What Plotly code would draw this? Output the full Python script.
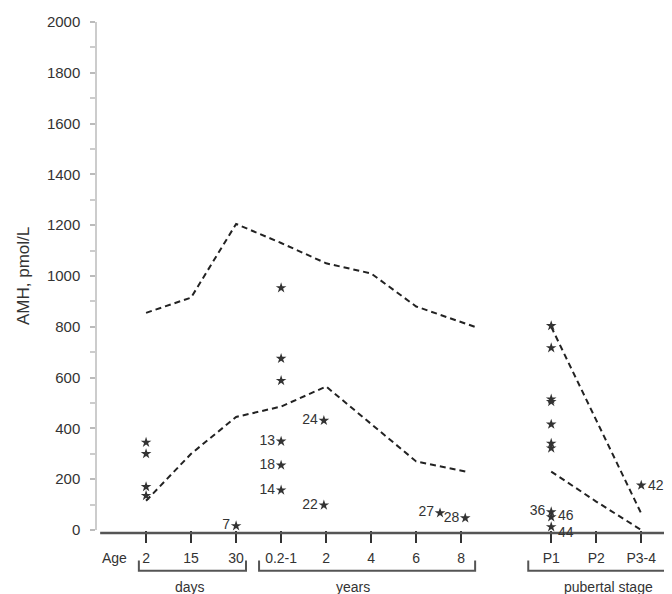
import plotly.graph_objects as go

# ---------------- data ----------------
tick_pos = [0, 1, 2, 3, 4, 5, 6, 7, 9, 10, 11]
tick_text = ["2", "15", "30", "0.2-1", "2", "4", "6", "8", "P1", "P2", "P3-4"]

# reference range (dashed) — early childhood
upper_x = [0, 1, 2, 3, 4, 5, 6, 7.3]
upper_y = [855, 915, 1205, 1130, 1050, 1010, 880, 800]
lower_x = [0, 1, 2, 3, 4, 5, 6, 7.1]
lower_y = [115, 300, 445, 486, 565, 418, 270, 230]

# reference range (dashed) — pubertal stages
pub_upper_x = [9, 11]
pub_upper_y = [800, 65]
pub_lower_x = [9, 10, 11]
pub_lower_y = [230, 112, 0]

# unlabeled patient values
stars_x = [0, 0, 0, 0, 3, 3, 3, 9, 9, 9, 9, 9, 9, 9]
stars_y = [345, 300, 170, 135, 953, 675, 588, 804, 717, 515, 505, 416, 341, 322]

# labeled patient values (label on left)
left_x = [2, 3, 3, 3, 3.95, 3.95, 6.53, 7.09, 9]
left_y = [16, 349, 255, 157, 431, 98, 67, 47, 71]
left_lab = ["7", "13", "18", "14", "24", "22", "27", "28", "36"]

# labeled patient values (label on right)
right_x = [9, 9, 11]
right_y = [51, 12, 176]
right_lab = ["46", "44", "42"]

groups = [("days", -0.16, 2.22), ("years", 2.51, 7.31), ("pubertal stage", 8.49, 11.71)]
group_label_x = [0.98, 4.6, 10.27]

FONT = "Liberation Sans, Arial, sans-serif"
DARK = "#333333"

fig = go.Figure()

for xs, ys in [(upper_x, upper_y), (lower_x, lower_y), (pub_upper_x, pub_upper_y), (pub_lower_x, pub_lower_y)]:
    fig.add_trace(go.Scatter(x=xs, y=ys, mode="lines",
                             line=dict(color="#222222", width=2, dash="6px,4px"),
                             showlegend=False, hoverinfo="skip", cliponaxis=False))

star_marker = dict(symbol="star", size=8, color=DARK, line=dict(width=0))
fig.add_trace(go.Scatter(x=stars_x, y=stars_y, mode="markers", marker=star_marker,
                         showlegend=False, cliponaxis=False))
fig.add_trace(go.Scatter(x=left_x, y=left_y, mode="markers+text", marker=star_marker,
                         text=left_lab, textposition="middle left",
                         textfont=dict(family=FONT, size=14, color=DARK),
                         showlegend=False, cliponaxis=False))
fig.add_trace(go.Scatter(x=right_x, y=right_y, mode="markers", marker=star_marker,
                         showlegend=False, cliponaxis=False))

shapes = []
# horizontal x axis line
shapes.append(dict(type="line", xref="x", yref="paper", x0=-1.02, x1=11.6, y0=-0.006, y1=-0.006,
                   line=dict(color="#555555", width=2.5)))
# brackets
for name, a, b in groups:
    shapes.append(dict(type="path", xref="x", yref="paper",
                       path=f"M {a},-0.060 L {a},-0.080 L {b},-0.080 L {b},-0.060",
                       line=dict(color="#555555", width=2)))
annotations = []
# right-hand point labels (small vertical nudges keep the stacked 46/44 apart)
nudges = [2, -5, 0]
for x, y, lab, dy in zip(right_x, right_y, right_lab, nudges):
    annotations.append(dict(text=lab, x=x, y=y, xref="x", yref="y", showarrow=False,
                            xanchor="left", yanchor="middle", xshift=5, yshift=dy,
                            font=dict(family=FONT, size=14, color=DARK)))
for (name, a, b), lx in zip(groups, group_label_x):
    annotations.append(dict(text=name, x=lx, y=-0.113, xref="x", yref="paper",
                            showarrow=False, font=dict(family=FONT, size=14, color=DARK),
                            xanchor="center", yanchor="middle"))
annotations.append(dict(text="Age", x=0.005, y=-0.055, xref="paper", yref="paper",
                        showarrow=False, font=dict(family=FONT, size=14, color=DARK),
                        xanchor="left", yanchor="middle"))
annotations.append(dict(text="AMH, pmol/L", x=-0.128, y=0.5, xref="paper", yref="paper",
                        textangle=-90, showarrow=False,
                        font=dict(family=FONT, size=17, color=DARK),
                        xanchor="center", yanchor="middle"))

fig.update_layout(
    width=672, height=594,
    margin=dict(l=89, r=5, t=12, b=72),
    paper_bgcolor="white", plot_bgcolor="white",
    shapes=shapes, annotations=annotations,
    font=dict(family=FONT, color=DARK),
    xaxis=dict(range=[-1.09, 11.75], tickvals=tick_pos, ticktext=tick_text,
               ticks="outside", ticklen=12, tickwidth=2, tickcolor="#333333",
               showline=False, showgrid=False, zeroline=False,
               tickfont=dict(family=FONT, size=14, color=DARK),
               ticklabelstandoff=3),
    yaxis=dict(range=[0, 2000], tickvals=list(range(0, 2001, 200)),
               ticks="outside", ticklen=5, tickwidth=1.5, tickcolor="#bbbbbb",
               showline=True, linecolor="#cccccc", linewidth=1.5,
               showgrid=False, zeroline=False,
               tickfont=dict(family=FONT, size=15, color=DARK),
               ticklabelstandoff=7,
               minor=dict(tickvals=list(range(100, 2000, 200)), ticks="outside",
                          ticklen=5, tickwidth=1.5, tickcolor="#cccccc")),
)

fig.write_html("out.html")
